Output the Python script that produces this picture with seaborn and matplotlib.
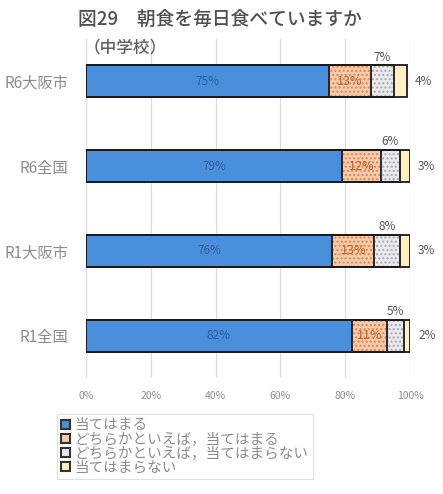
import numpy as np
import pandas as pd
import matplotlib
matplotlib.use("Agg")
import matplotlib.pyplot as plt
from matplotlib.patches import Patch
import seaborn as sns

# Survey groups (top to bottom)
groups = ["R6大阪市", "R6全国", "R1大阪市", "R1全国"]
# Response shares (%)
atehamaru = [75, 79, 76, 82]
dochira_ate = [13, 12, 13, 11]
dochira_not = [7, 6, 8, 5]
not_ate = [4, 3, 3, 2]
series_names = ["当てはまる", "どちらかといえば，当てはまる",
                "どちらかといえば，当てはまらない", "当てはまらない"]
xticks = [0, 20, 40, 60, 80, 100]
xtick_labels = ["0%", "20%", "40%", "60%", "80%", "100%"]

sns.set_theme(style="white")
plt.rcParams["font.family"] = ["Noto Sans CJK JP", "DejaVu Sans"]

fills = ["#4A8FDB", "#F7CBAA", "#E9E9EE", "#FFF1C4"]
hatch_cols = ["#4A8FDB", "#D9875A", "#A8A8B0", "#FFF1C4"]
hatches = [None, "....", "....", None]

df = pd.DataFrame({"group": groups,
                   "s1": atehamaru, "s2": dochira_ate,
                   "s3": dochira_not, "s4": not_ate})
vals = df[["s1", "s2", "s3", "s4"]].to_numpy(dtype=float)
cum = np.cumsum(vals, axis=1)

fig = plt.figure(figsize=(4.43, 4.94), dpi=100)
ax = fig.add_axes([86 / 443, 1 - 378 / 494, 324 / 443, 339 / 494])

bar_w = 0.38
# stacked segments: draw cumulative totals from the outermost inward
for k in range(3, -1, -1):
    n_before = len(ax.patches)
    sns.barplot(x=cum[:, k], y=df["group"], orient="h", ax=ax,
                color=fills[k], width=bar_w, linewidth=0, saturation=1,
                edgecolor=hatch_cols[k], zorder=2)
    for p in ax.patches[n_before:]:
        p.set_edgecolor(hatch_cols[k])
        if hatches[k]:
            p.set_hatch(hatches[k])
            p.set_linewidth(0)
# black outlines around each segment
for k in range(3, -1, -1):
    sns.barplot(x=cum[:, k], y=df["group"], orient="h", ax=ax,
                fill=False, color="#1a1a1a", width=bar_w, linewidth=1.3,
                zorder=3)

ax.set_xlim(0, 100)
ax.set_ylim(3.5, -0.5)
ax.set_xticks(xticks)
ax.set_xticklabels(xtick_labels, fontsize=7.5, color="#8c8c8c")
ax.tick_params(axis="y", labelsize=11, labelcolor="#8c8c8c", pad=13, length=0)
ax.tick_params(axis="x", pad=9, length=0)
ax.set_xlabel("")
ax.set_ylabel("")
for s in ax.spines.values():
    s.set_visible(False)
ax.grid(axis="x", color="#dcdcdc", linewidth=0.9, zorder=0)
ax.set_axisbelow(True)

# value labels
for i in range(len(groups)):
    v = vals[i]
    c = cum[i]
    ax.text(v[0] / 2, i, f"{int(v[0])}%", ha="center", va="center",
            fontsize=8.5, color="#2C5D9A", zorder=5)
    ax.text(c[0] + v[1] / 2, i, f"{int(v[1])}%", ha="center", va="center",
            fontsize=9, color="#C0642A", zorder=5)
    ax.text(c[1] + v[2] / 2, i - bar_w / 2 - 0.02, f"{int(v[2])}%",
            ha="center", va="bottom", fontsize=8.5, color="#555555", zorder=5)
    ax.text(c[3] + 2.5, i, f"{int(v[3])}%", ha="left", va="center",
            fontsize=8.5, color="#555555", zorder=5)

fig.text(220 / 443, 1 - 19 / 494, "図29　朝食を毎日食べていますか",
         ha="center", va="center", fontsize=13.5, fontweight="medium",
         color="#505050")
fig.text(84 / 443, 1 - 47 / 494, "（中学校）", ha="left", va="center",
         fontsize=12, fontweight="medium", color="#606060")

handles = [Patch(facecolor=fills[k], edgecolor="#333333", linewidth=1.5)
           for k in range(4)]
leg = fig.legend(handles, series_names, loc="upper left",
                 bbox_to_anchor=(57 / 443, 1 - 414 / 494),
                 fontsize=10.5, frameon=True, fancybox=False,
                 handlelength=0.6, handleheight=0.6, handletextpad=0.3,
                 labelspacing=0.0, borderpad=0.3, borderaxespad=0)
leg.get_frame().set_edgecolor("#d9d9d9")
leg.get_frame().set_linewidth(0.8)
for t in leg.get_texts():
    t.set_color("#8c8c8c")

fig.savefig("out.png", dpi=100)
